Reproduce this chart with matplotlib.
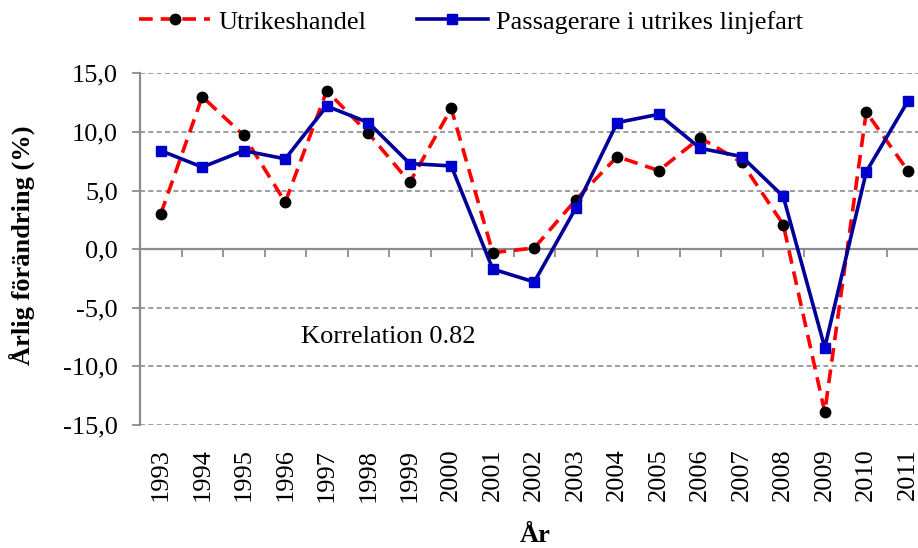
import matplotlib
matplotlib.use("Agg")
import matplotlib.pyplot as plt
from matplotlib.ticker import FixedLocator, FuncFormatter
import numpy as np

years = ["1993", "1994", "1995", "1996", "1997", "1998", "1999", "2000", "2001", "2002",
         "2003", "2004", "2005", "2006", "2007", "2008", "2009", "2010", "2011"]
utrikeshandel = [3.0, 13.0, 9.7, 4.0, 13.5, 9.9, 5.7, 12.0, -0.3, 0.1,
                 4.2, 7.9, 6.7, 9.5, 7.4, 2.1, -13.9, 11.7, 6.7]
passagerare = [8.4, 7.0, 8.4, 7.7, 12.2, 10.8, 7.3, 7.1, -1.7, -2.8,
               3.5, 10.8, 11.5, 8.6, 7.9, 4.5, -8.4, 6.6, 12.6]
yticks = [15, 10, 5, 0, -5, -10, -15]
series_names = ["Utrikeshandel", "Passagerare i utrikes linjefart"]
ylabel = "Årlig förändring (%)"
xlabel = "År"
note = "Korrelation 0.82"

plt.rcParams['font.family'] = ['Liberation Serif', 'DejaVu Serif']
FS = 19
GRAY = '#8c8c8c'

fig = plt.figure(figsize=(9.18, 5.48), dpi=100)
ax = fig.add_axes([140/918, 1-425/548, 788.5/918, (425-73.3)/548])

x = np.arange(len(years))
ax.set_xlim(-0.5, len(years) - 0.5)
ax.set_ylim(-15, 15)

# grid
ax.set_yticks(yticks)
ax.yaxis.set_major_formatter(FuncFormatter(lambda v, p: f"{v:.1f}".replace('.', ',')))
ax.grid(axis='y', color=GRAY, linestyle=(0, (3, 2)), linewidth=1.2, zorder=0)
ax.set_axisbelow(True)

l1, = ax.plot(x, utrikeshandel, color='#ff0000', linestyle=(0, (3.8, 2.2)), linewidth=2.6,
              marker='o', markersize=7.5, markerfacecolor='black', markeredgecolor='black',
              label=series_names[0], zorder=3, clip_on=False)
l2, = ax.plot(x, passagerare, color='#000099', linestyle='-', linewidth=2.6,
              marker='s', markersize=6.5, markerfacecolor='#0000cc', markeredgecolor='#0000cc',
              label=series_names[1], zorder=4, clip_on=False)

for s in ['top', 'right']:
    ax.spines[s].set_visible(False)
ax.spines['left'].set_color(GRAY)
ax.spines['left'].set_linewidth(1.6)
ax.spines['bottom'].set_position(('data', 0))
ax.spines['bottom'].set_color(GRAY)
ax.spines['bottom'].set_linewidth(1.6)
ax.spines['bottom'].set_zorder(2)

ax.tick_params(axis='y', direction='out', length=6, width=1.3, color=GRAY,
               labelsize=FS, pad=10)
ax.set_xticks(x)
ax.tick_params(axis='x', which='major', length=0, labelbottom=False)
ax.xaxis.set_minor_locator(FixedLocator(np.arange(-0.5, len(years), 1.0)))
ax.tick_params(axis='x', which='minor', direction='out', length=6, width=1.3, color=GRAY)

sec = ax.secondary_xaxis('bottom')
sec.set_xticks(x, labels=years)
sec.tick_params(length=0, labelsize=FS, pad=17, labelrotation=90)
sec.spines['bottom'].set_visible(False)

ax.text(5.48, -7.5, note, fontsize=FS, ha='center', va='center')

fig.text(22/918, 1-245/548, ylabel, rotation=90, fontsize=FS, fontweight='bold',
         ha='center', va='center')
fig.text(535/918, 1-536/548, xlabel, fontsize=FS, fontweight='bold', ha='center', va='center')

fig.legend(handles=[l1, l2], loc='center', bbox_to_anchor=(0.513, 1-22/548), ncol=2,
           frameon=False, fontsize=FS, handlelength=2.7, handletextpad=0.3,
           columnspacing=1.9, numpoints=1)

fig.savefig("out.png", dpi=100)
